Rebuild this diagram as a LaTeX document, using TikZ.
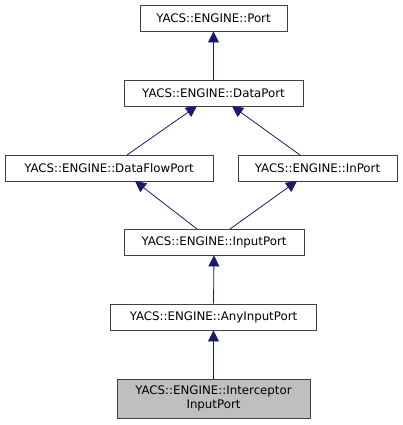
\documentclass[tikz,border=0pt]{standalone}
\usepackage{fontspec}
\setmainfont{DejaVu Sans}
\usetikzlibrary{arrows.meta}
\definecolor{edgecol}{HTML}{191970}
\definecolor{boxborder}{HTML}{404040}
\definecolor{hlfill}{HTML}{BFBFBF}
\tikzset{
  cls/.style={draw=boxborder, line width=0.9pt, fill=white, inner sep=0pt, align=center, font=\fontsize{11.8}{13.5}\selectfont},
  hl/.style={cls, fill=hlfill},
  inh/.style={draw=edgecol, line width=0.8pt, -{Triangle[length=11pt,width=11pt]}, shorten >=0pt}
}
\begin{document}
\begin{tikzpicture}[x=1pt,y=-1pt]
\useasboundingbox (0,0) rectangle (403,425);
\node[cls, minimum width=147pt, minimum height=26pt] (port) at (213.5,18) {YACS::ENGINE::Port};
\node[cls, minimum width=179pt, minimum height=26pt] (dataport) at (213.5,93) {YACS::ENGINE::DataPort};
\node[cls, minimum width=208pt, minimum height=26pt] (dataflow) at (109,168) {YACS::ENGINE::DataFlowPort};
\node[cls, minimum width=159pt, minimum height=26pt] (inport) at (317.5,168) {YACS::ENGINE::InPort};
\node[cls, minimum width=180pt, minimum height=26pt] (inputport) at (214,242) {YACS::ENGINE::InputPort};
\node[cls, minimum width=206pt, minimum height=26pt] (anyinput) at (213.5,317) {YACS::ENGINE::AnyInputPort};
\node[hl, minimum width=193pt, minimum height=39pt] (intercept) at (213.5,398.5) {YACS::ENGINE::Interceptor\\InputPort};
\coordinate (a1) at (127,155);
\coordinate (a2) at (197,106);
\coordinate (b1) at (300,155);
\coordinate (b2) at (232,106);
\coordinate (c1) at (197,229);
\coordinate (c2) at (135,181);
\coordinate (d1) at (230,229);
\coordinate (d2) at (297,181);
\draw[inh] (dataport.north) -- (port.south);
\draw[inh] (a1) -- (a2);
\draw[inh] (b1) -- (b2);
\draw[inh] (c1) -- (c2);
\draw[inh] (d1) -- (d2);
\draw[inh] (anyinput.north) -- (inputport.south);
\draw[inh] (intercept.north) -- (anyinput.south);
\end{tikzpicture}
\end{document}
